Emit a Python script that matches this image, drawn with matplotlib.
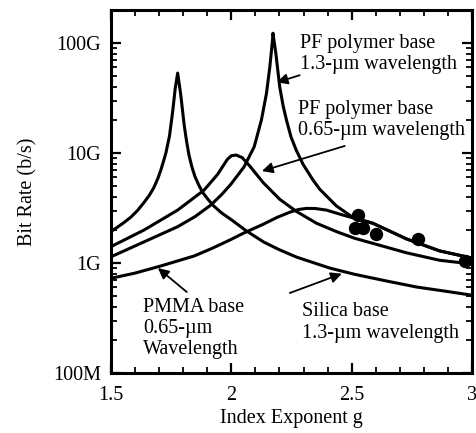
import matplotlib
matplotlib.use("Agg")
import matplotlib.pyplot as plt
from matplotlib.ticker import FixedLocator, MultipleLocator, NullFormatter

plt.rcParams.update({"font.family": "Liberation Serif", "font.size": 14.5})

# curves: index exponent g vs bit rate (Gb/s)
silica_g = [1.5, 1.55, 1.583, 1.61, 1.637, 1.66, 1.678, 1.695, 1.707, 1.718,
            1.728, 1.743, 1.756, 1.767, 1.777, 1.790, 1.804, 1.814, 1.824, 1.836,
            1.849, 1.865, 1.882, 1.905, 1.927, 1.96, 2.002, 2.064, 2.135, 2.2,
            2.272, 2.409, 2.512, 2.64, 2.770, 2.9, 3.0]
silica_br = [1.93, 2.3, 2.62, 3.0, 3.55, 4.15, 4.85, 5.9, 7.0, 8.4,
             10.0, 14.3, 23.6, 39.0, 53.4, 33.7, 18.0, 12.8, 9.6, 7.5,
             6.1, 5.1, 4.35, 3.75, 3.30, 2.85, 2.46, 1.95, 1.55, 1.32,
             1.13, 0.90, 0.79, 0.69, 0.605, 0.55, 0.51]

pf13_g = [1.5, 1.638, 1.777, 1.85, 1.915, 1.96, 1.998, 2.053, 2.095, 2.125,
          2.146, 2.160, 2.171, 2.173, 2.185, 2.201, 2.215, 2.229, 2.248, 2.27,
          2.298, 2.339, 2.367, 2.409, 2.437, 2.505, 2.588, 2.727, 2.865, 3.0]
pf13_br = [1.14, 1.56, 2.14, 2.65, 3.37, 4.2, 5.2, 7.5, 11.4, 20.0,
           34.9, 60.9, 106, 123, 80.6, 40.1, 27.0, 20.0, 14.0, 10.6,
           7.9, 5.7, 4.7, 3.8, 3.3, 2.6, 2.3, 1.66, 1.29, 1.11]

pf065_g = [1.5, 1.638, 1.777, 1.887, 1.943, 1.965, 1.984, 2.0, 2.02, 2.045,
           2.077, 2.132, 2.201, 2.27, 2.354, 2.437, 2.512, 2.588, 2.727, 2.865, 3.0]
pf065_br = [1.41, 2.0, 3.03, 4.61, 6.4, 7.6, 8.8, 9.45, 9.6, 9.1,
            7.6, 5.4, 3.8, 2.95, 2.3, 1.93, 1.68, 1.51, 1.24, 1.06, 0.98]

pmma_g = [1.5, 1.6, 1.707, 1.846, 1.92, 1.994, 2.053, 2.132, 2.19, 2.243,
          2.28, 2.312, 2.35, 2.395, 2.464, 2.512, 2.588, 2.727, 2.865, 3.0]
pmma_br = [0.726, 0.81, 0.94, 1.16, 1.36, 1.62, 1.88, 2.25, 2.6, 2.9,
           3.07, 3.14, 3.13, 3.03, 2.73, 2.55, 2.3, 1.66, 1.29, 1.11]

meas_g = [2.512, 2.526, 2.547, 2.602, 2.775, 2.969]
meas_br = [2.10, 2.73, 2.07, 1.84, 1.65, 1.04]

ytick_vals = [0.1, 1, 10, 100]
ytick_labels = ["100M", "1G", "10G", "100G"]
xtick_vals = [1.5, 2, 2.5, 3]
xtick_labels = ["1.5", "2", "2.5", "3"]

fig = plt.figure(figsize=(4.76, 4.33), dpi=100)
ax = fig.add_axes([111 / 476, 60 / 433, 361 / 476, 363 / 433])

for g, br in [(silica_g, silica_br), (pf13_g, pf13_br),
              (pf065_g, pf065_br), (pmma_g, pmma_br)]:
    ax.plot(g, br, color="black", lw=2.2, solid_joinstyle="round")
ax.plot(meas_g, meas_br, "o", color="black", ms=8.6)

ax.set_yscale("log")
ax.set_xlim(1.5, 3.0)
ax.set_ylim(0.1, 200)
ax.yaxis.set_major_locator(FixedLocator(ytick_vals))
ax.set_yticklabels(ytick_labels)
ax.yaxis.set_minor_formatter(NullFormatter())
ax.xaxis.set_major_locator(FixedLocator(xtick_vals))
ax.set_xticklabels(xtick_labels)
ax.xaxis.set_minor_locator(MultipleLocator(0.1))

for s in ax.spines.values():
    s.set_linewidth(2.2)
ax.tick_params(which="both", direction="in", top=True, right=True)
ax.tick_params(which="major", length=7, width=1.6)
ax.tick_params(which="minor", length=4, width=1.3)
ax.tick_params(axis="y", pad=7)
ax.tick_params(axis="x", pad=9)

ax.set_xlabel("Index Exponent g")
ax.set_ylabel("Bit Rate (b/s)")
ax.xaxis.set_label_coords(0.5, -0.10)
ax.yaxis.set_label_coords(-0.205, 0.5)

arrow = dict(arrowstyle="-|>", color="black", lw=1.3, mutation_scale=16,
             shrinkA=0, shrinkB=0)

ax.text(2.284, 80, "PF polymer base\n1.3-µm wavelength", ha="left", va="center",
        linespacing=1.15)
ax.annotate("", xy=(2.189, 44), xytext=(2.284, 51), arrowprops=arrow)

ax.text(2.276, 20, "PF polymer base\n0.65-µm wavelength", ha="left", va="center",
        linespacing=1.15)
ax.annotate("", xy=(2.127, 6.86), xytext=(2.471, 11.6), arrowprops=arrow)

ax.text(1.633, 0.256, "PMMA base\n0.65-µm\nWavelength", ha="left", va="center",
        linespacing=1.15)
ax.annotate("", xy=(1.695, 0.90), xytext=(1.815, 0.545), arrowprops=arrow)

ax.text(2.293, 0.288, "Silica base\n1.3-µm wavelength", ha="left", va="center",
        linespacing=1.15)
ax.annotate("", xy=(2.459, 0.80), xytext=(2.243, 0.534), arrowprops=arrow)

fig.savefig("out.png", dpi=100)
